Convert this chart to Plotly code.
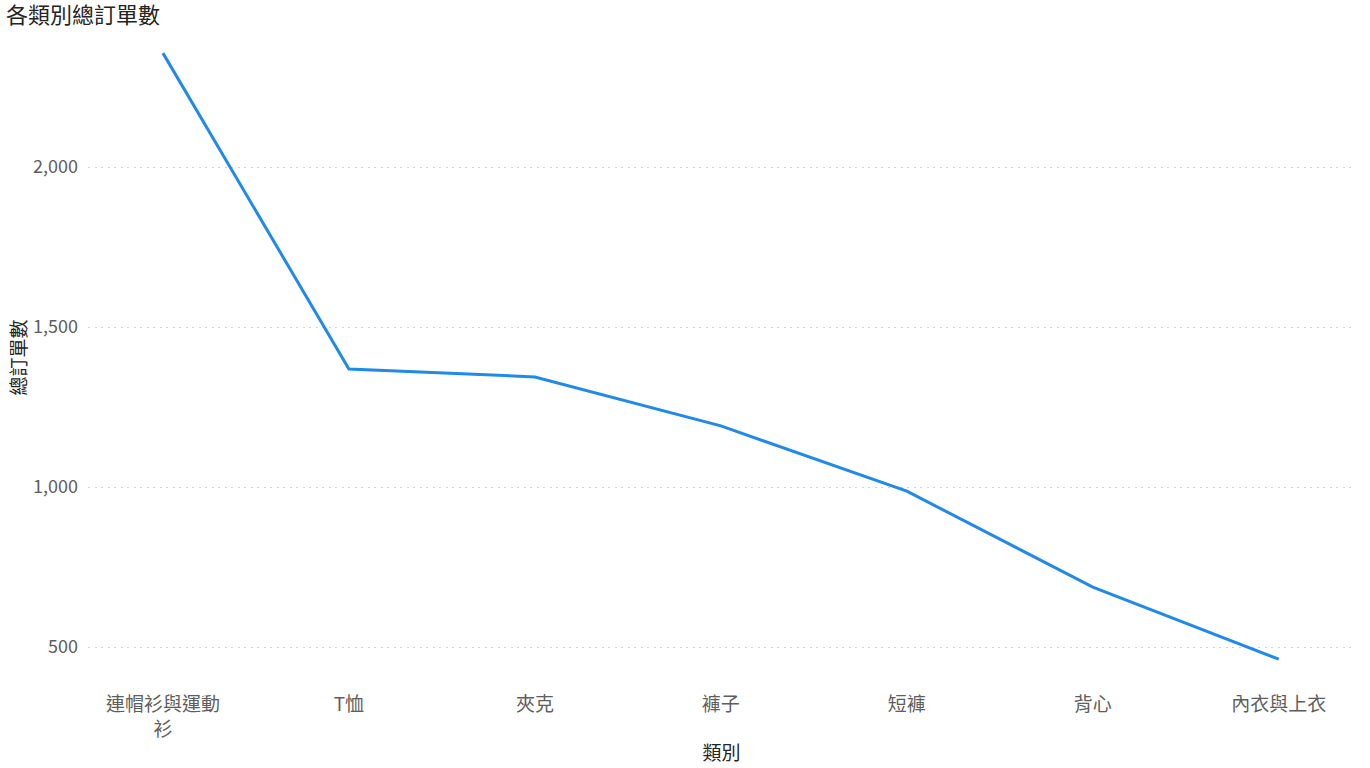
import plotly.graph_objects as go

categories = ["連帽衫與運動<br>衫", "T恤", "夾克", "褲子", "短褲", "背心", "內衣與上衣"]
orders = [2356, 1369, 1344, 1191, 987, 687, 462]
y_ticks = [500, 1000, 1500, 2000]
y_tick_labels = ["500", "1,000", "1,500", "2,000"]

FONT = "Noto Sans CJK TC, Noto Sans, sans-serif"

fig = go.Figure()
fig.add_trace(go.Scatter(
    x=list(range(len(categories))),
    y=orders,
    mode="lines",
    line=dict(color="#2189E8", width=3),
    hoverinfo="skip",
))

fig.update_layout(
    width=1370, height=768,
    paper_bgcolor="white", plot_bgcolor="white",
    margin=dict(l=88, r=15, t=40, b=93),
    showlegend=False,
    font=dict(family=FONT, color="#605E5C"),
    title=dict(text="各類別總訂單數", x=0.0044, xanchor="left", xref="container",
               y=1 - 15 / 768, yanchor="middle", pad=dict(l=0, t=0),
               font=dict(size=22, color="#252423", family=FONT)),
    xaxis=dict(
        tickmode="array", tickvals=list(range(len(categories))), ticktext=categories,
        range=[-0.403, 6.41], showgrid=False, zeroline=False, showline=False,
        tickfont=dict(size=19, color="#605E5C"), ticks="", ticklabelstandoff=16,
        automargin=False,
        title=dict(text="類別", font=dict(size=19, color="#252423"), standoff=6),
    ),
    yaxis=dict(
        tickmode="array", tickvals=y_ticks, ticktext=y_tick_labels,
        range=[412.5, 2397], showgrid=True, gridcolor="#D2D2D2", griddash="2px,4.5px", gridwidth=1,
        zeroline=False, showline=False, ticks="", automargin=False,
        tickfont=dict(size=18, color="#605E5C"), ticklabelstandoff=9,
        title=dict(text="總訂單數", font=dict(size=19, color="#252423"), standoff=1),
    ),
)

fig.write_html("out.html", config={"displayModeBar": False},
               post_script="document.body.style.margin='0';")
